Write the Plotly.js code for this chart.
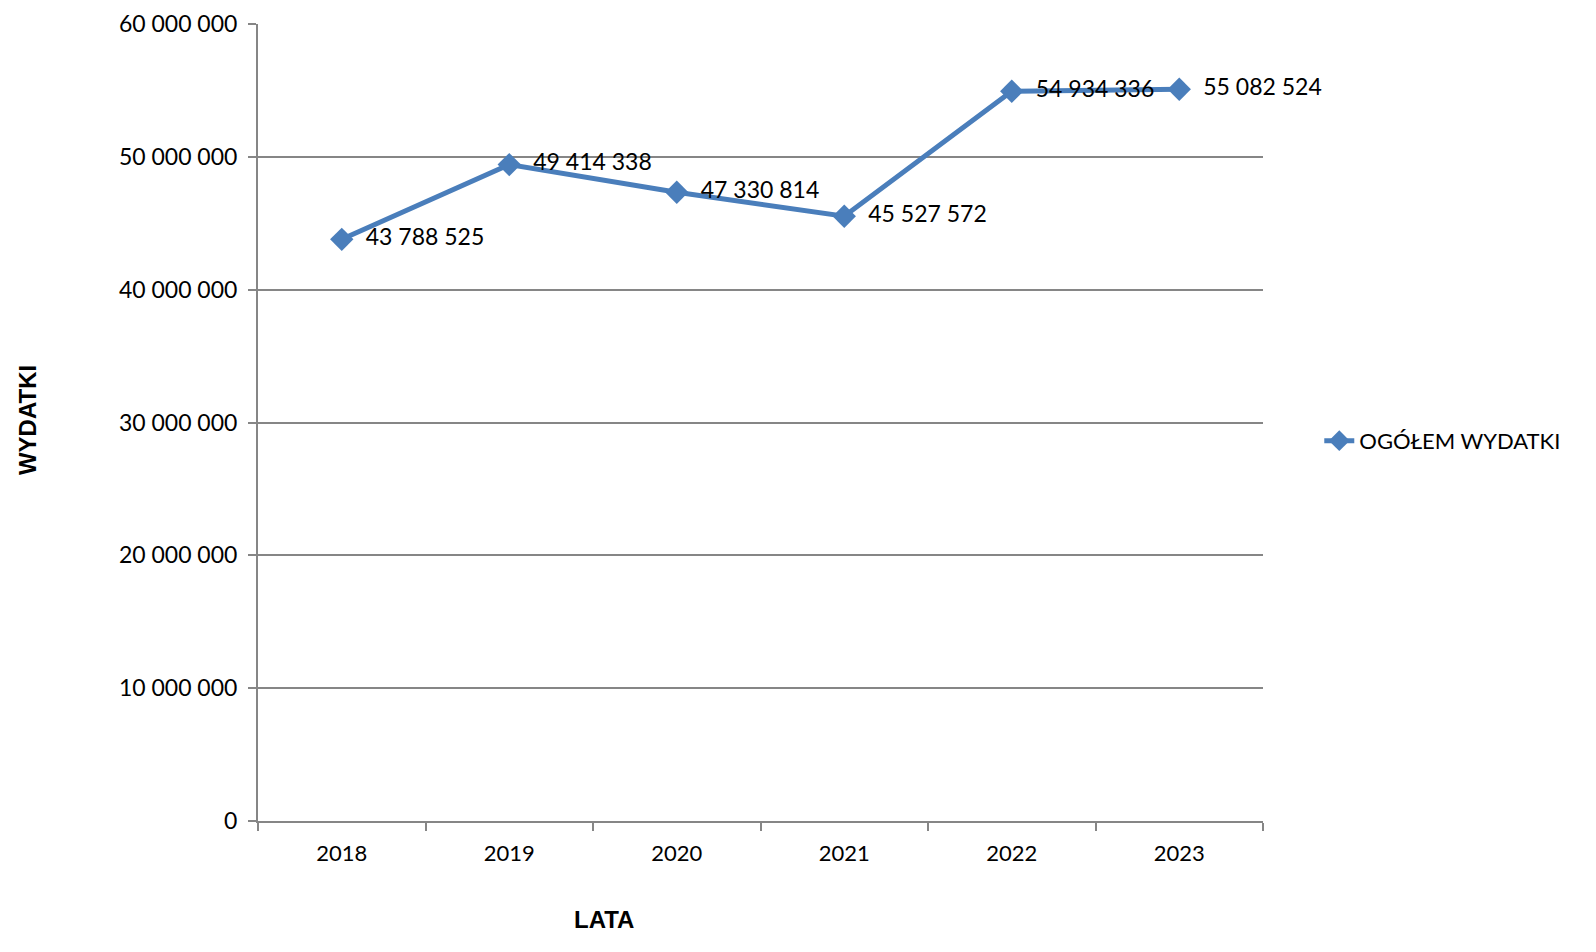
<!DOCTYPE html>
<html>
<head>
<meta charset="utf-8">
<script src="https://cdn.plot.ly/plotly-3.0.1.min.js"></script>
<style>html,body{margin:0;padding:0;background:#fff;}#chart{width:1596px;height:952px;}</style>
</head>
<body>
<div id="chart"></div>
<script>
const years = ['2018', '2019', '2020', '2021', '2022', '2023'];
const wydatki = [43788525, 49414338, 47330814, 45527572, 54934336, 55082524];
const seriesName = 'OGÓŁEM WYDATKI';
const yTicks = [0, 10000000, 20000000, 30000000, 40000000, 50000000, 60000000];
const xTitle = 'LATA';
const yTitle = 'WYDATKI';

const trace = {
  x: years,
  y: wydatki,
  type: 'scatter',
  mode: 'lines+markers+text',
  name: seriesName,
  line: {color: '#4A7EBB', width: 5},
  marker: {symbol: 'diamond', size: 18, color: '#4A7EBB'},
  texttemplate: '  %{y:,d}',
  textposition: 'middle right',
  textfont: {family: 'Lato, sans-serif', size: 23, color: '#000'},
  cliponaxis: false
};

const titleFont = {family: 'Liberation Sans, Arial, sans-serif', size: 24, color: '#000'};

const layout = {
  width: 1596, height: 952,
  margin: {l: 258, r: 333, t: 24, b: 131},
  paper_bgcolor: '#fff', plot_bgcolor: '#fff',
  separators: ', ',
  font: {family: 'Lato, sans-serif', size: 23, color: '#000'},
  showlegend: true,
  legend: {x: 1.056, y: 0.477, xanchor: 'left', yanchor: 'middle', font: {size: 22}},
  xaxis: {
    type: 'category',
    range: [-0.5, 5.5],
    showgrid: false,
    showline: true, linecolor: '#868686', linewidth: 2,
    ticks: 'outside', tickson: 'boundaries', ticklen: 8, tickcolor: '#868686', tickwidth: 2,
    tickfont: {size: 22},
    ticklabelstandoff: 12
  },
  yaxis: {
    range: [0, 60000000],
    tickvals: yTicks,
    tickformat: ',d',
    showgrid: true, gridcolor: '#868686', gridwidth: 2,
    zeroline: false,
    showline: true, linecolor: '#868686', linewidth: 2,
    ticks: 'outside', ticklen: 8, tickcolor: '#868686', tickwidth: 2,
    tickfont: {size: 23},
    ticklabelstandoff: 6
  },
  annotations: [{
    text: '<b>' + xTitle + '</b>',
    xref: 'paper', yref: 'paper',
    x: 0.344, y: -0.124, xanchor: 'center', yanchor: 'middle',
    showarrow: false,
    font: titleFont
  }, {
    text: '<b>' + yTitle + '</b>',
    xref: 'paper', yref: 'paper',
    x: -0.2299, y: 0.503, xanchor: 'center', yanchor: 'middle',
    textangle: -90,
    showarrow: false,
    font: titleFont
  }]
};

Plotly.newPlot('chart', [trace], layout, {displayModeBar: false, staticPlot: true});
</script>
</body>
</html>
